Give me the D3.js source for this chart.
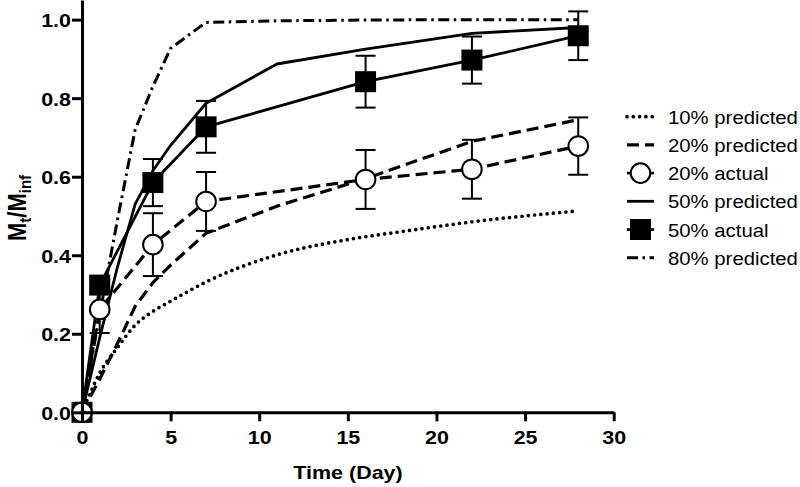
<!DOCTYPE html>
<html><head><meta charset="utf-8">
<script src="https://cdn.jsdelivr.net/npm/d3@7"></script>
<style>
html,body{margin:0;padding:0;background:#fff;}
svg{display:block;font-family:"Liberation Sans",Arial,Helvetica,sans-serif;}
</style></head>
<body><svg id="chart" width="800" height="487"></svg>
<script>
// ---- data ----
const xTicks = [0,5,10,15,20,25,30];
const yTicks = [0,0.2,0.4,0.6,0.8,1.0];

const days10Pred = [0,1,2,3,4,5,7,11,15,18,22,28];
const vals10Pred = [0,0.10,0.165,0.222,0.257,0.283,0.332,0.401,0.44,0.46,0.485,0.513];

const days20Pred = [0,1,2,3,4,5,7,11,16,22,28];
const vals20Pred = [0,0.085,0.175,0.27,0.33,0.375,0.456,0.525,0.595,0.69,0.745];

const days50Pred = [0,1,2,3,4,5,7,11,16,22,28];
const vals50Pred = [0,0.19,0.37,0.53,0.615,0.68,0.787,0.887,0.925,0.965,0.98];

const days80Pred = [0,1,2,3,4,5,7,11,16,22,28];
const vals80Pred = [0,0.25,0.49,0.72,0.83,0.927,0.993,0.997,0.999,1.0,1.0];

const daysActual = [0,1,4,7,16,22,28];
const vals20Act = [0,0.262,0.427,0.537,0.593,0.619,0.678];
const err20Act  = [0,0.06,0.08,0.075,0.075,0.075,0.073];
const vals50Act = [0,0.324,0.585,0.727,0.842,0.897,0.959];
const err50Act  = [0,0.02,0.06,0.066,0.066,0.06,0.062];

const legendLabels = ["10% predicted","20% predicted","20% actual","50% predicted","50% actual","80% predicted"];

// ---- layout ----
const svg = d3.select("#chart");
const SX = 1.13; // horizontal text stretch
const x = d3.scaleLinear().domain([0,30]).range([82,613.7]);
const y = d3.scaleLinear().domain([0,1.05]).range([412.3,0]);

const styles = {
  dotted:  {dash:"0,6.3", width:3.7, cap:"round"},
  dashed:  {dash:"12,6", width:3.2, cap:"butt"},
  solid:   {dash:null, width:2.8, cap:"butt"},
  dashdot: {dash:"11,4.5,2.5,4.5", width:3, cap:"butt"}
};

const line = d3.line().x(d=>x(d[0])).y(d=>y(d[1]));
const lineSmooth = d3.line().x(d=>x(d[0])).y(d=>y(d[1])).curve(d3.curveMonotoneX);

function drawLine(days, vals, st, gen){
  const p = svg.append("path")
    .datum(days.map((d,i)=>[d,vals[i]]))
    .attr("d", gen || line)
    .attr("fill","none").attr("stroke","#000")
    .attr("stroke-width", st.width)
    .attr("stroke-linecap", st.cap)
    .attr("stroke-linejoin","round");
  if (st.dash) p.attr("stroke-dasharray", st.dash);
}

drawLine(days10Pred, vals10Pred, styles.dotted, lineSmooth);
drawLine(days20Pred, vals20Pred, styles.dashed);
drawLine(days50Pred, vals50Pred, styles.solid);
drawLine(days80Pred, vals80Pred, styles.dashdot);
drawLine(daysActual, vals20Act, styles.dashed);
drawLine(daysActual, vals50Act, styles.solid);

// error bars
function drawErr(vals, errs){
  const g = svg.append("g").attr("stroke","#000").attr("stroke-width",2);
  daysActual.forEach((d,i)=>{
    if (!errs[i]) return;
    const cx = x(d), y1 = y(vals[i]+errs[i]), y2 = y(vals[i]-errs[i]);
    g.append("line").attr("x1",cx).attr("x2",cx).attr("y1",y1).attr("y2",y2);
    g.append("line").attr("x1",cx-10).attr("x2",cx+10).attr("y1",y1).attr("y2",y1);
    g.append("line").attr("x1",cx-10).attr("x2",cx+10).attr("y1",y2).attr("y2",y2);
  });
}
drawErr(vals50Act, err50Act);
drawErr(vals20Act, err20Act);

// markers
svg.append("g").selectAll("rect").data(daysActual).join("rect")
  .attr("x",(d)=>x(d)-10.5).attr("y",(d,i)=>y(vals50Act[i])-10.5)
  .attr("width",21).attr("height",21).attr("fill","#000");
svg.append("g").selectAll("circle").data(daysActual).join("circle")
  .attr("cx",d=>x(d)).attr("cy",(d,i)=>y(vals20Act[i])).attr("r",9.8)
  .attr("fill","#fff").attr("stroke","#000").attr("stroke-width",2);

// axes
const yAxis = d3.axisLeft(y).tickValues(yTicks).tickFormat(d3.format(".1f")).tickSize(10).tickSizeOuter(0);
const xAxis = d3.axisBottom(x).tickValues(xTicks).tickFormat(d3.format("d")).tickSize(9).tickSizeOuter(0);

const gy = svg.append("g").attr("transform","translate(82,0)").call(yAxis);
const gx = svg.append("g").attr("transform","translate(0,412.3)").call(xAxis);
[gx,gy].forEach(g=>{
  g.select(".domain").attr("stroke-width",3).attr("stroke","#000");
  g.selectAll(".tick line").attr("stroke-width",3).attr("stroke","#000");
  g.selectAll("text").attr("font-family",'"Liberation Sans",Arial,sans-serif')
    .attr("font-weight","bold").attr("font-size",19).attr("fill","#000");
});
gy.selectAll(".tick text").attr("x",null).attr("dy",null)
  .attr("transform","translate(-11,7) scale("+SX+",1)");
gx.selectAll(".tick text").attr("y",null).attr("dy",null)
  .attr("transform","translate(0,31.5) scale("+SX+",1)");
// fill corner
svg.append("line").attr("x1",80.5).attr("x2",86).attr("y1",412.3).attr("y2",412.3)
  .attr("stroke","#000").attr("stroke-width",3);

// axis titles
svg.append("text").attr("transform","translate(348,478.5) scale("+SX+",1)")
  .attr("text-anchor","middle").attr("font-weight","bold").attr("font-size",19)
  .text("Time (Day)");

const yt = svg.append("text")
  .attr("transform","translate(26,208) scale("+SX+",1) rotate(-90)")
  .attr("text-anchor","middle").attr("font-weight","bold").attr("font-size",22);
yt.append("tspan").text("M");
yt.append("tspan").attr("font-size",15).attr("dy",4).text("t");
yt.append("tspan").attr("dy",-4).text("/M");
yt.append("tspan").attr("font-size",15).attr("dy",4).text("inf");

// legend
const legStyles = [styles.dotted, styles.dashed, styles.dashed, styles.solid, styles.solid, styles.dashdot];
const legMarkers = [null,null,"circle",null,"square",null];
const lg = svg.append("g");
legendLabels.forEach((lab,i)=>{
  const cy = 116.7 + i*28.2;
  const st = legStyles[i];
  const l = lg.append("line").attr("x1",627).attr("x2",654).attr("y1",cy).attr("y2",cy)
    .attr("stroke","#000").attr("stroke-width",st.width).attr("stroke-linecap",st.cap);
  if (st.dash) l.attr("stroke-dasharray", st.dash);
  if (legMarkers[i]==="circle"){
    l.attr("stroke-dasharray",null).attr("stroke-width",2.5);
    lg.append("circle").attr("cx",640.5).attr("cy",cy).attr("r",9.8)
      .attr("fill","#fff").attr("stroke","#000").attr("stroke-width",2);
  } else if (legMarkers[i]==="square"){
    lg.append("rect").attr("x",630).attr("y",cy-10.5).attr("width",21).attr("height",21).attr("fill","#000");
  }
  lg.append("text").attr("transform","translate(668,"+(cy+7)+") scale("+SX+",1)")
    .attr("font-size",18).attr("fill","#000").text(lab);
});
</script></body></html>
